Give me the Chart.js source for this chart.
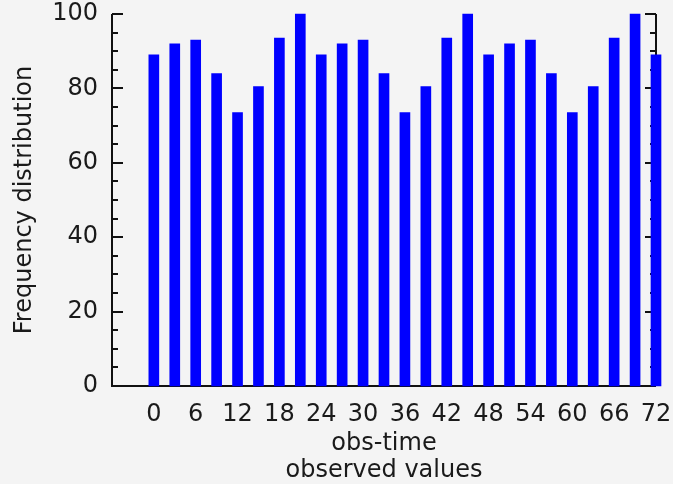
<!DOCTYPE html>
<html>
<head>
<meta charset="utf-8">
<script src="https://cdn.jsdelivr.net/npm/chart.js@4"></script>
<style>
  html, body { margin: 0; padding: 0; background: #f4f4f4; }
  canvas { display: block; }
</style>
</head>
<body>
<canvas id="chart" width="673" height="484"></canvas>
<script>
// observation times (every 3 units) and the frequency at each one
const obsTimes = [0, 3, 6, 9, 12, 15, 18, 21, 24, 27, 30, 33, 36, 39, 42, 45, 48, 51, 54, 57, 60, 63, 66, 69, 72];
const frequencies = [89, 92, 93, 84, 73.5, 80.5, 93.5, 100, 89, 92, 93, 84, 73.5, 80.5, 93.5, 100, 89, 92, 93, 84, 73.5, 80.5, 93.5, 100, 89];
const xTickStep = 6;
const yTicks = [0, 20, 40, 60, 80, 100];
const yMinorStep = 5;

const axisColor = '#111';
const textColor = '#1a1a1a';
const fontFamily = '"DejaVu Sans", "Liberation Sans", sans-serif';

// IDL style axes: box on left/right/bottom, ticks pointing inward
const idlAxes = {
    id: 'idlAxes',
    beforeDatasetsDraw(chart) {
        const { ctx, chartArea: a, scales: { y } } = chart;
        ctx.save();
        ctx.strokeStyle = axisColor;
        ctx.lineWidth = 2;
        ctx.beginPath();
        ctx.moveTo(a.left, a.top);
        ctx.lineTo(a.left, a.bottom);
        ctx.lineTo(a.right, a.bottom);
        ctx.moveTo(a.right, a.top);
        ctx.lineTo(a.right, a.bottom);
        for (let v = 0; v <= 100; v += yMinorStep) {
            const py = Math.round(y.getPixelForValue(v));
            const len = yTicks.includes(v) ? 11 : 6;
            ctx.moveTo(a.left, py);
            ctx.lineTo(a.left + len, py);
            ctx.moveTo(a.right, py);
            ctx.lineTo(a.right - len, py);
        }
        ctx.stroke();
        ctx.restore();
    }
};

new Chart(document.getElementById('chart').getContext('2d'), {
    type: 'bar',
    data: {
        datasets: [{
            data: obsTimes.map((t, i) => ({ x: t, y: frequencies[i] })),
            backgroundColor: '#0000ff',
            borderWidth: 0,
            barThickness: 10,
            clip: false
        }]
    },
    options: {
        responsive: false,
        animation: false,
        layout: { padding: { top: 14, right: 17, left: 0, bottom: 0 } },
        plugins: { legend: { display: false }, tooltip: { enabled: false } },
        scales: {
            x: {
                type: 'linear',
                min: -6,
                max: 72,
                offset: false,
                grid: { display: false },
                border: { display: false },
                ticks: {
                    stepSize: xTickStep,
                    autoSkip: false,
                    maxRotation: 0,
                    padding: 6,
                    color: textColor,
                    font: { family: fontFamily, size: 24 },
                    callback: v => v < 0 ? '' : v
                },
                title: {
                    display: true,
                    text: ['obs-time', 'observed values'],
                    color: textColor,
                    font: { family: fontFamily, size: 24, lineHeight: 1.125 },
                    padding: { top: 0, bottom: 0 }
                },
                afterFit: s => {
                    s.height = 98;
                    s.paddingLeft = 0;
                    s.paddingRight = 0;
                }
            },
            y: {
                min: 0,
                max: 100,
                grid: { display: false },
                border: { display: false },
                afterBuildTicks: s => { s.ticks = yTicks.map(v => ({ value: v })); },
                ticks: {
                    padding: 6,
                    color: textColor,
                    font: { family: fontFamily, size: 24 }
                },
                title: {
                    display: true,
                    text: 'Frequency distribution',
                    color: textColor,
                    font: { family: fontFamily, size: 24 },
                    padding: { top: 10, bottom: 0 }
                },
                afterFit: s => {
                    s.width = 112;
                    s.paddingTop = 0;
                    s.paddingBottom = 0;
                }
            }
        }
    },
    plugins: [idlAxes]
});
</script>
</body>
</html>
